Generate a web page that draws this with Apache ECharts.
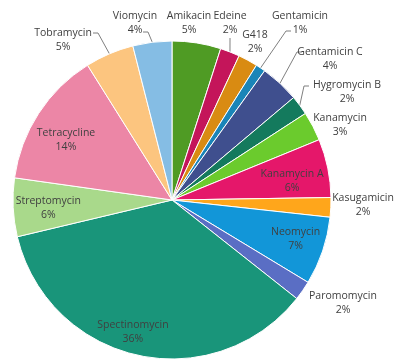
<!DOCTYPE html>
<html>
<head>
<meta charset="utf-8">
<script src="https://cdn.jsdelivr.net/npm/echarts@6/dist/echarts.min.js"></script>
<style>
  html, body { margin: 0; padding: 0; background: #fff; }
  #chart { width: 394px; height: 360px; }
</style>
</head>
<body>
<div id="chart"></div>
<script>
// Antibiotic share (%), clockwise from 12 o'clock
const antibiotics = ['Amikacin', 'Edeine', 'G418', 'Gentamicin', 'Gentamicin C', 'Hygromycin B',
  'Kanamycin', 'Kanamycin A', 'Kasugamicin', 'Neomycin', 'Paromomycin', 'Spectinomycin',
  'Streptomycin', 'Tetracycline', 'Tobramycin', 'Viomycin'];
const shares = [5, 2, 2, 1, 4, 2, 3, 6, 2, 7, 2, 36, 6, 14, 5, 4];
const sliceColors = ['#4f9b24', '#c4155a', '#d98b12', '#1a85b8', '#3f4f8e', '#147a5d',
  '#6bcb2d', '#e5176a', '#ffa61b', '#1296d8', '#5a6ec4', '#19957a',
  '#a9d98b', '#ec86a6', '#fcc57f', '#85bde4'];

// Pie geometry
const CX = 172, CY = 200, R = 159;

// Labels placed inside their slice: [fraction of the radius, turn from the slice middle in degrees]
const insidePlacement = {
  'Kanamycin A':   [0.764, 2.8],
  'Neomycin':      [0.816, -1],
  'Spectinomycin': [0.866, 4],
  'Streptomycin':  [0.78, -1.2],
  'Tetracycline':  [0.766, -3.5]
};
// Labels placed outside: block centre relative to the pie centre,
// and (optionally) the leader-line attach point relative to the block centre
const outsidePlacement = {
  'Amikacin':     { at: [17, -177] },
  'Edeine':       { at: [58, -177],  tail: [0, 15],   dir: 'v' },
  'G418':         { at: [83, -158] },
  'Gentamicin':   { at: [128, -177], tail: [-9, 8],   dir: 'h' },
  'Gentamicin C': { at: [158, -141], tail: [-28, -7], dir: 'h' },
  'Hygromycin B': { at: [175, -108], tail: [-38, -6], dir: 'h' },
  'Kanamycin':    { at: [168, -75] },
  'Kasugamicin':  { at: [191, 5] },
  'Paromomycin':  { at: [171, 103] },
  'Tobramycin':   { at: [-109, -160], tail: [30, -7], dir: 'h' },
  'Viomycin':     { at: [-37, -177], tail: [8, 9],    dir: 'h' }
};

const chart = echarts.init(document.getElementById('chart'), null, { renderer: 'canvas' });

const pieData = antibiotics.map((name, i) => ({
  name: name,
  value: shares[i],
  itemStyle: { color: sliceColors[i] },
  labelLine: { show: !!(outsidePlacement[name] && outsidePlacement[name].tail) }
}));

// Point at k * radius along the slice's middle direction, optionally turned by `turn` degrees
function slicePoint(layout, k, turn) {
  const a = (layout.startAngle + layout.endAngle) / 2 + (turn || 0) * Math.PI / 180;
  return [layout.cx + k * layout.r * Math.cos(a), layout.cy + k * layout.r * Math.sin(a)];
}

function placeLabel(params) {
  const name = antibiotics[params.dataIndex];
  const layout = chart.getModel().getSeriesByIndex(0).getData().getItemLayout(params.dataIndex);
  const inside = insidePlacement[name];
  if (inside) {
    const p = slicePoint(layout, inside[0], inside[1]);
    return { x: p[0], y: p[1], align: 'center', verticalAlign: 'middle', hideOverlap: false };
  }
  const spec = outsidePlacement[name];
  const x = CX + spec.at[0], y = CY + spec.at[1];
  const out = { x: x, y: y, align: 'center', verticalAlign: 'middle', hideOverlap: false };
  if (spec.tail) {
    const edge = slicePoint(layout, 1, 0);
    const tail = [x + spec.tail[0], y + spec.tail[1]];
    let elbow;
    if (spec.dir === 'v') {
      elbow = [tail[0], tail[1] + 3];
    } else {
      elbow = [tail[0] + (edge[0] > tail[0] ? 5 : -5), tail[1]];
    }
    out.labelLinePoints = [edge, elbow, tail];
  }
  return out;
}

chart.setOption({
  animation: false,
  backgroundColor: '#ffffff',
  series: [{
    type: 'pie',
    center: [CX, CY],
    radius: R,
    startAngle: 90,
    clockwise: true,
    avoidLabelOverlap: false,
    itemStyle: { borderColor: '#ffffff', borderWidth: 1 },
    label: {
      show: true,
      position: 'outside',
      formatter: '{b}\n{c}%',
      color: '#404040',
      fontFamily: 'Open Sans',
      fontSize: 10.5,
      lineHeight: 14,
      width: 110,
      overflow: 'none',
      align: 'center'
    },
    labelLine: {
      show: true,
      lineStyle: { color: '#7f7f7f', width: 1 }
    },
    labelLayout: placeLabel,
    emphasis: { disabled: true },
    data: pieData
  }]
});
</script>
</body>
</html>
